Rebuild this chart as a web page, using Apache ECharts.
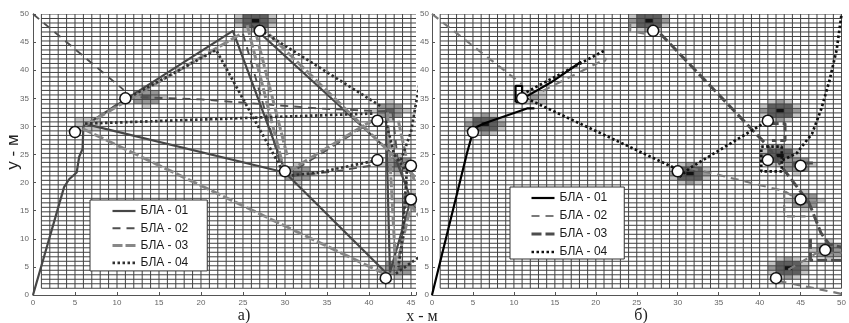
<!DOCTYPE html>
<html>
<head>
<meta charset="utf-8">
<script src="https://cdn.jsdelivr.net/npm/echarts@6/dist/echarts.min.js"></script>
<style>
  html, body { margin: 0; padding: 0; background: #fff; }
  #chart { width: 849px; height: 323px; }
</style>
</head>
<body>
<div id="chart"></div>
<script>
// target points (white circles), panel а) and panel б)
const targetsA = [[5,29],[11,35],[27,47],[30,22],[41,31],[41,24],[45,23],[45,17],[42,3],[48,8]];
const targetsB = [[5,29],[11,35],[27,47],[30,22],[41,31],[41,24],[45,23],[45,17],[48,8],[42,3]];

// dark heat spots near the targets: [x, y, peak level 1..4]
const heatA = [[26,48.8,4],[13,35.5,3],[6.5,30.5,2],[31,21.6,3],[42.3,32.8,3],[43.5,23.4,3],[45.3,16.8,3],[43.8,4.4,3]];
const heatB = [[6.3,30.6,4],[12.8,35.3,2],[26.5,48.6,4],[31.5,21.6,4],[42.5,32.6,4],[42.5,24.6,4],[44.5,23.2,3],[45.8,16.6,3],[48.9,8.3,3],[43.5,4.4,4]];
// spot shape: [dx, dy, level drop]
const spotKernel = [
  [-1,2,3],[0,2,2],[1,2,3],
  [-2,1,3],[-1,1,1],[0,1,1],[1,1,1],[2,1,3],
  [-2,0,2],[-1,0,1],[0,0,0],[1,0,1],[2,0,2],
  [-2,-1,3],[-1,-1,1],[0,-1,1],[1,-1,1],[2,-1,3],
  [-1,-2,3],[0,-2,2],[1,-2,3]
];

// routes of the four UAVs, each one a list of polylines
const routeA01 = [
  [[0,0],[3.7,19.2],[4.3,20.6],[5.2,21.8],[5.5,24.6],[5.9,26],[6,30],[23.8,47],[29.9,22.5]],
  [[6.3,30.4],[30,21.8],[42,4]],
  [[26,48],[44.6,22.6]],
  [[42,32.8],[42.5,4],[45,17]],
  [[43,25],[44,21],[45.5,15]]
];
const routeA02 = [
  [[0,50],[10.8,36.5]],
  [[12.8,35.2],[20,34.8],[27,34],[34,33.2],[41.4,32.7],[42.6,32.8]],
  [[6.5,30.2],[11,35]],
  [[31.5,22.5],[40.5,31]],
  [[31,21.2],[36,22],[41,23.2]],
  [[42.8,32.5],[43.5,23],[44.5,20],[43.5,5]],
  [[25,46.5],[29.5,23]]
];
const routeA03 = [
  [[5.9,29.6],[41.8,3.8]],
  [[6.2,30.2],[24.8,46.5]],
  [[25.5,48],[30,21.6],[40.3,31]],
  [[26.5,46.8],[30.3,24.6]],
  [[27,48],[45.5,21]],
  [[42.2,32.5],[43.2,4.5],[45,16],[46,14]],
  [[43.5,31],[44.5,24],[45.5,20]]
];
const routeA04 = [
  [[6.2,30.5],[40.6,32.3]],
  [[11.5,35.2],[21.8,43.6],[29.6,22.4]],
  [[27,47.2],[41.5,33.5]],
  [[30.8,21.3],[34,21.8],[41,24]],
  [[43.2,3.8],[46,6.8]],
  [[43.8,24],[45,29],[46,37.5]],
  [[42,31],[43,25],[44.5,22]],
  [[44.5,22],[44,10],[43.5,5]]
];

const routeB01 = [
  [[0,0],[4.3,25.4],[4.8,28],[5.3,29.8],[6.5,30.6],[11.6,33.2],[12.5,33.2]],
  [[10.2,34.3],[11,34.3],[11,37.2],[10.2,37.2],[10.2,34.3]],
  [[11.5,35.3],[14.5,37.8],[18.2,41.5]]
];
const routeB02 = [
  [[0,50],[11,37.5]],
  [[13.5,36.3],[21.3,42.1],[21,41.5]],
  [[24.2,48.3],[24.2,47],[26.3,46.4]],
  [[31.5,22.6],[43,18.5],[45.5,16.3],[47,16.5]],
  [[43,18.5],[43,14],[45.6,14]],
  [[43.5,4.5],[47,7.5],[50,7.5]],
  [[42.3,2.5],[50,0.2]]
];
const routeB03 = [
  [[26.7,48.3],[41,26.5],[42.7,22.8],[46,16.5],[47.5,11],[48.5,9],[50,8.5]],
  [[46.2,10],[46.2,6.2],[50,6.2]],
  [[41.1,30.5],[43.1,30.5],[43.1,27.5],[41.5,27.5]],
  [[44,23.5],[46.5,23.5]]
];
const routeB04 = [
  [[11,35.7],[21.2,43.6]],
  [[11.5,35],[30.2,22.2]],
  [[30.2,21],[31.5,22.6],[41,31]],
  [[40.2,26.4],[42.7,26.4],[42.7,22],[40.2,22],[40.2,26.4]],
  [[42.8,24],[44.5,25.2],[46.4,28.7],[47.5,33],[48.5,38],[49.4,43.6],[50,50]]
];

// occupancy grid cells
const cellX0 = 1, cellW = 1, cellY0 = 1.2, cellH = 0.8;

const chart = echarts.init(document.getElementById('chart'));

const heatColors = ['#ffffff', '#c4c4c4', '#979797', '#5e5e5e', '#121212'];

function heatCells(spots) {
  const out = [];
  for (const s of spots) {
    const ix = Math.floor((s[0] - cellX0) / cellW);
    const iy = Math.floor((s[1] - cellY0) / cellH);
    for (const k of spotKernel) {
      const lvl = s[2] - k[2];
      if (lvl > 0) out.push([ix + k[0], iy + k[1], lvl]);
    }
  }
  return out;
}

function heatSeries(p, spots) {
  return {
    type: 'custom', xAxisIndex: p, yAxisIndex: p, clip: true, silent: true, z: 1,
    data: heatCells(spots),
    renderItem: (params, api) => {
      const ix = api.value(0), iy = api.value(1);
      const a = api.coord([cellX0 + ix * cellW, cellY0 + (iy + 1) * cellH]);
      const b = api.coord([cellX0 + (ix + 1) * cellW, cellY0 + iy * cellH]);
      return { type: 'rect', shape: { x: a[0], y: a[1], width: b[0] - a[0], height: b[1] - a[1] },
               style: { fill: heatColors[api.value(2)] } };
    }
  };
}

function gridSeries(p, xMax) {
  return {
    type: 'custom', xAxisIndex: p, yAxisIndex: p, clip: true, silent: true, z: 2,
    data: [[0, 0]],
    renderItem: (params, api) => {
      const ch = [];
      const st = { stroke: '#424242', lineWidth: 1 };
      for (let x = cellX0; x <= xMax + 0.001; x += cellW) {
        const a = api.coord([x, cellY0]), b = api.coord([x, 50]);
        ch.push({ type: 'line', shape: { x1: a[0], y1: a[1], x2: b[0], y2: b[1] }, style: st });
      }
      for (let k = 0; cellY0 + k * cellH <= 50.001; k++) {
        const y = cellY0 + k * cellH;
        const a = api.coord([cellX0, y]), b = api.coord([xMax, y]);
        ch.push({ type: 'line', shape: { x1: a[0], y1: a[1], x2: b[0], y2: b[1] }, style: st });
      }
      return { type: 'group', children: ch };
    }
  };
}

const stylesA = {
  a01: { color: '#474747', width: 2.2, type: 'solid' },
  a02: { color: '#505050', width: 1.9, type: [8, 6] },
  a03: { color: '#888888', width: 3, type: [10, 3] },
  a04: { color: '#303030', width: 2.7, type: [2.5, 2.5] }
};
const stylesB = {
  b01: { color: '#000000', width: 2.2, type: 'solid' },
  b02: { color: '#7a7a7a', width: 2.2, type: [8, 6] },
  b03: { color: '#4d4d4d', width: 3, type: [10, 4] },
  b04: { color: '#111111', width: 2.7, type: [2.5, 2.5] }
};

function routeSeries(p, name, style, route) {
  return route.map(poly => ({
    name, type: 'line', xAxisIndex: p, yAxisIndex: p, data: poly,
    symbol: 'none', z: 3, silent: true,
    lineStyle: { color: style.color, width: style.width, type: style.type },
    itemStyle: { color: style.color }
  }));
}

function pointSeries(p, pts) {
  return {
    type: 'scatter', xAxisIndex: p, yAxisIndex: p, data: pts, z: 10, silent: true,
    symbolSize: 11,
    itemStyle: { color: '#ffffff', borderColor: '#111', borderWidth: 1.5, opacity: 1 }
  };
}

const series = [
  heatSeries(0, heatA), gridSeries(0, 45.6),
  heatSeries(1, heatB), gridSeries(1, 50),
  ...routeSeries(0, 'a01', stylesA.a01, routeA01),
  ...routeSeries(0, 'a02', stylesA.a02, routeA02),
  ...routeSeries(0, 'a03', stylesA.a03, routeA03),
  ...routeSeries(0, 'a04', stylesA.a04, routeA04),
  ...routeSeries(1, 'b01', stylesB.b01, routeB01),
  ...routeSeries(1, 'b02', stylesB.b02, routeB02),
  ...routeSeries(1, 'b03', stylesB.b03, routeB03),
  ...routeSeries(1, 'b04', stylesB.b04, routeB04),
  pointSeries(0, targetsA), pointSeries(1, targetsB)
];

const axisCommon = {
  type: 'value', min: 0, interval: 5,
  axisLine: { show: true, lineStyle: { color: '#555', width: 1 } },
  axisTick: { show: true, inside: true, length: 3, lineStyle: { color: '#555' } },
  axisLabel: { fontSize: 8, color: '#666', fontFamily: 'Liberation Sans, Arial',
               formatter: v => (v % 5 === 0 ? String(v) : '') },
  splitLine: { show: false }
};

const legendCommon = {
  orient: 'vertical', itemWidth: 23, itemHeight: 14, selectedMode: false,
  backgroundColor: '#fff', borderColor: '#333', borderWidth: 1, borderRadius: 0,
  textStyle: { fontSize: 12, color: '#1a1a1a', fontFamily: 'Liberation Sans, Arial' },
  itemStyle: { color: 'rgba(0,0,0,0)', borderWidth: 0, opacity: 0 },
  lineStyle: { width: 'inherit', type: 'inherit' },
  formatter: n => 'БЛА - ' + n.slice(1)
};

const option = {
  animation: false,
  backgroundColor: '#fff',
  grid: [
    { left: 33, top: 14, width: 383, height: 281 },
    { left: 432, top: 14, width: 414.5, height: 281 }
  ],
  xAxis: [
    { ...axisCommon, gridIndex: 0, max: 45.6, axisLabel: { ...axisCommon.axisLabel, margin: 4 } },
    { ...axisCommon, gridIndex: 1, max: 50, axisLabel: { ...axisCommon.axisLabel, margin: 4 } }
  ],
  yAxis: [
    { ...axisCommon, gridIndex: 0, max: 50, axisLabel: { ...axisCommon.axisLabel, margin: 4 } },
    { ...axisCommon, gridIndex: 1, max: 50, axisLabel: { ...axisCommon.axisLabel, margin: 3 } }
  ],
  legend: [
    { ...legendCommon, left: 90, top: 200, itemGap: 5.3, padding: [5, 19, 2, 21],
      data: ['a01', 'a02', 'a03', 'a04'] },
    { ...legendCommon, left: 510, top: 187, itemGap: 6, padding: [5, 17, 1, 20],
      data: ['b01', 'b02', 'b03', 'b04'] }
  ],
  graphic: [
    { type: 'text', x: 13, y: 152, rotation: Math.PI / 2,
      style: { text: 'y - м', font: '17px "Liberation Sans", Arial', fill: '#222',
               textAlign: 'center', textVerticalAlign: 'middle' } },
    { type: 'text', x: 422, y: 317,
      style: { text: 'x - м', font: '16px "Liberation Serif", serif', fill: '#222',
               textAlign: 'center', textVerticalAlign: 'middle' } },
    { type: 'text', x: 244, y: 316,
      style: { text: 'а)', font: '16px "Liberation Serif", serif', fill: '#222',
               textAlign: 'center', textVerticalAlign: 'middle' } },
    { type: 'text', x: 641, y: 316,
      style: { text: 'б)', font: '16px "Liberation Serif", serif', fill: '#222',
               textAlign: 'center', textVerticalAlign: 'middle' } }
  ],
  series
};

chart.setOption(option);
</script>
</body>
</html>
